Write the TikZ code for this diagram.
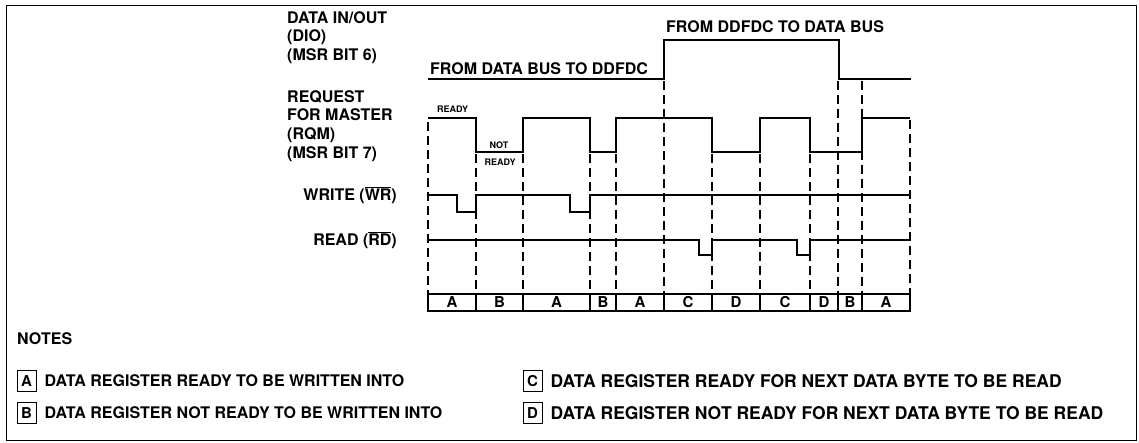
\documentclass[tikz,border=0pt]{standalone}
\usepackage{fontspec}
\setmainfont{TeX Gyre Heros}
\usetikzlibrary{positioning}
\begin{document}
\begin{tikzpicture}[x=1pt,y=-1pt,
    lbl/.style={font=\fontsize{16}{18.7}\selectfont\bfseries, inner sep=0pt, align=left},
    small/.style={font=\fontsize{9}{10}\selectfont\bfseries, inner sep=0pt},
    wave/.style={line width=1.8pt, line join=miter},
    tick/.style={line width=1.3pt, dash pattern=on 9pt off 5pt},
    cell/.style={draw, line width=1.5pt, minimum height=17pt, inner sep=0pt,
        font=\fontsize{15}{16}\selectfont\bfseries},
    key/.style={draw, line width=1pt, minimum width=19pt, minimum height=21pt, inner sep=0pt,
        font=\fontsize{15}{16}\selectfont\bfseries},
    note/.style={font=\fontsize{16}{19}\selectfont\bfseries, inner sep=0pt},
    noteR/.style={font=\fontsize{17.5}{19}\selectfont\bfseries, inner sep=0pt}]
    \useasboundingbox (0,0) rectangle (1139,443);
    \draw[line width=1pt] (6,6) rectangle (1136,440);

    % signal names
    \node[lbl, anchor=north west] (dio) at (287,11) {DATA IN/OUT\\(DIO)\\(MSR BIT 6)};
    \node[lbl, anchor=north west] (rqm) at (287,90) {REQUEST\\FOR MASTER\\(RQM)\\(MSR BIT 7)};
    \node[lbl, anchor=east] (wr) at (397,195) {WRITE ($\overline{\mbox{WR}}$)};
    \node[lbl, anchor=east] (rd) at (397,240) {READ ($\overline{\mbox{RD}}$)};

    % markers
    \foreach \x/\y in {428/122, 476/154, 523/154, 590/154, 616/154, 664/81,
        712/154, 760/154, 810/154, 838/81, 862/81, 910/120}
        \draw[tick] (\x,\y) -- (\x,294);

    % DIO
    \draw[wave] (428,79) -- (664,79) -- (664,40) -- (839,40) -- (839,79) -- (911,79);
    \node[lbl, anchor=base west] (tobus) at (430,75) {FROM DATA BUS TO DDFDC};
    \node[lbl, anchor=base west] (frombus) at (666,33) {FROM DDFDC TO DATA BUS};

    % RQM
    \draw[wave] (428,118) -- (476,118) -- (476,152) -- (523,152) -- (523,118)
        -- (590,118) -- (590,152) -- (616,152) -- (616,118) -- (712,118)
        -- (712,152) -- (760,152) -- (760,118) -- (810,118) -- (810,152)
        -- (862,152) -- (862,118) -- (910,118);
    \node[small, anchor=west] (rdy) at (437,109) {READY};
    \node[small] (nrdy) at (499,145) {NOT};
    \node[small] (nrdy2) at (500,162) {READY};

    % WR
    \draw[wave] (428,195) -- (457,195) -- (457,212) -- (476,212) -- (476,195)
        -- (570,195) -- (570,212) -- (590,212) -- (590,195) -- (910,195);

    % RD
    \draw[wave] (428,240) -- (699,240) -- (699,255) -- (712,255) -- (712,240)
        -- (797,240) -- (797,255) -- (810,255) -- (810,240) -- (910,240);

    % register states
    \foreach \xa/\xb/\t [count=\i] in {428/476/A, 476/523/B, 523/590/A, 590/616/B,
        616/664/A, 664/712/C, 712/760/D, 760/810/C, 810/838/D, 838/862/B, 862/910/A}
        \node[cell, minimum width={(\xb-\xa)*1pt}] (cell\i) at ({(\xa+\xb)/2},302.5) {\t};

    % notes
    \node[note, anchor=base west] (notes) at (17,344) {NOTES};
    \node[key] (keyA) at (26.5,381) {A};
    \node[key] (keyB) at (26.5,413) {B};
    \node[key] (keyC) at (532.5,381) {C};
    \node[key] (keyD) at (532.5,413) {D};
    \node[note, right=8pt of keyA] (txtA) {DATA REGISTER READY TO BE WRITTEN INTO};
    \node[note, right=8pt of keyB] (txtB) {DATA REGISTER NOT READY TO BE WRITTEN INTO};
    \node[noteR, right=8pt of keyC] (txtC) {DATA REGISTER READY FOR NEXT DATA BYTE TO BE READ};
    \node[noteR, right=8pt of keyD] (txtD) {DATA REGISTER NOT READY FOR NEXT DATA BYTE TO BE READ};
\end{tikzpicture}
\end{document}
